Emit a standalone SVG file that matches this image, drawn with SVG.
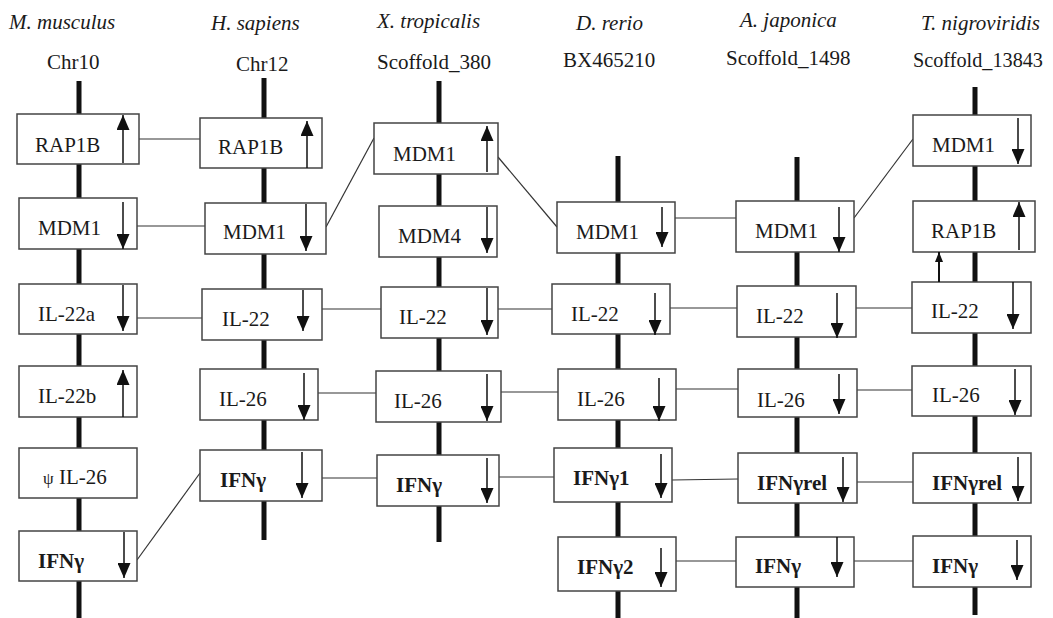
<svg xmlns="http://www.w3.org/2000/svg" width="1053" height="618" viewBox="0 0 1053 618">
  <style>
    text { font-family: "Liberation Serif", "Times New Roman", serif; font-size: 21px; fill: #1a1a1a; }
    .sp { font-style: italic; }
    .b { font-weight: bold; }
    .spine { stroke: #111; stroke-width: 5; fill: none; }
    .box { fill: #fff; stroke: #444; stroke-width: 1.5; }
    .con { stroke: #333; stroke-width: 1.2; fill: none; }
    .dir { stroke: #111; stroke-width: 1.5; fill: none; marker-end: url(#head); }
    .dir-s { stroke: #111; stroke-width: 2; fill: none; marker-end: url(#head-s); }
  </style>
  <defs>
    <marker id="head" markerUnits="userSpaceOnUse" markerWidth="15" markerHeight="13" refX="15" refY="6.5" orient="auto">
      <path d="M0,0 L15,6.5 L0,13 Z" fill="#111"/>
    </marker>
    <marker id="head-s" markerUnits="userSpaceOnUse" markerWidth="10" markerHeight="8" refX="10" refY="4" orient="auto">
      <path d="M0,0 L10,4 L0,8 Z" fill="#111"/>
    </marker>
  </defs>

  <!-- species and scaffold headers -->
  <g id="headers">
    <text class="sp" x="9" y="29">M. musculus</text>
    <text x="47" y="69">Chr10</text>
    <text class="sp" x="211" y="30">H. sapiens</text>
    <text x="236" y="71">Chr12</text>
    <text class="sp" x="377" y="28">X. tropicalis</text>
    <text x="377" y="69">Scoffold_380</text>
    <text class="sp" x="576" y="30">D. rerio</text>
    <text x="563" y="67">BX465210</text>
    <text class="sp" x="740" y="27">A. japonica</text>
    <text x="726" y="65">Scoffold_1498</text>
    <text class="sp" x="921" y="30">T. nigroviridis</text>
    <text x="913" y="67" textLength="130" lengthAdjust="spacingAndGlyphs">Scoffold_13843</text>
  </g>

  <!-- chromosome backbones -->
  <g id="chromosomes">
    <line class="spine" x1="79" y1="81" x2="79" y2="618"/>
    <line class="spine" x1="264" y1="78" x2="264" y2="540"/>
    <line class="spine" x1="439" y1="81" x2="439" y2="542"/>
    <line class="spine" x1="618" y1="156" x2="618" y2="618"/>
    <line class="spine" x1="797" y1="157" x2="797" y2="618"/>
    <line class="spine" x1="975" y1="87" x2="975" y2="615"/>
  </g>

  <!-- orthology links -->
  <g id="connectors">
    <line class="con" x1="139" y1="139" x2="200" y2="139"/>
    <line class="con" x1="137" y1="226" x2="205" y2="226"/>
    <line class="con" x1="326" y1="227" x2="374" y2="138"/>
    <line class="con" x1="498" y1="157" x2="557" y2="227"/>
    <line class="con" x1="675" y1="218" x2="736" y2="218"/>
    <line class="con" x1="854" y1="218" x2="913" y2="139"/>
    <line class="con" x1="137" y1="318" x2="202" y2="318"/>
    <line class="con" x1="322" y1="309" x2="381" y2="309"/>
    <line class="con" x1="498" y1="309" x2="552" y2="309"/>
    <line class="con" x1="670" y1="308" x2="737" y2="308"/>
    <line class="con" x1="856" y1="308" x2="912" y2="308"/>
    <line class="con" x1="318" y1="393" x2="376" y2="393"/>
    <line class="con" x1="501" y1="392" x2="558" y2="392"/>
    <line class="con" x1="676" y1="389" x2="738" y2="389"/>
    <line class="con" x1="857" y1="390" x2="912" y2="390"/>
    <line class="con" x1="137" y1="560" x2="200" y2="473"/>
    <line class="con" x1="322" y1="478" x2="377" y2="478"/>
    <line class="con" x1="499" y1="477" x2="554" y2="477"/>
    <line class="con" x1="672" y1="480" x2="738" y2="479"/>
    <line class="con" x1="857" y1="482" x2="913" y2="482"/>
    <line class="con" x1="676" y1="561" x2="736" y2="561"/>
    <line class="con" x1="854" y1="561" x2="913" y2="561"/>
  </g>

  <!-- M. musculus genes -->
  <g id="mm-rap1b"><rect class="box" x="17" y="114" width="122" height="50"/><text x="35" y="152">RAP1B</text><line class="dir" x1="123" y1="163" x2="123" y2="115"/></g>
  <g id="mm-mdm1"><rect class="box" x="19" y="198" width="118" height="51"/><text x="38" y="235">MDM1</text><line class="dir" x1="123" y1="202" x2="123" y2="249"/></g>
  <g id="mm-il22a"><rect class="box" x="19" y="284" width="118" height="50"/><text x="38" y="321">IL-22a</text><line class="dir" x1="123" y1="285" x2="123" y2="331"/></g>
  <g id="mm-il22b"><rect class="box" x="19" y="366" width="118" height="51"/><text x="38" y="403">IL-22b</text><line class="dir" x1="123" y1="417" x2="123" y2="370"/></g>
  <g id="mm-psi-il26"><rect class="box" x="19" y="448" width="118" height="50"/><text x="43" y="484"><tspan font-size="17">ψ</tspan> IL-26</text></g>
  <g id="mm-ifng"><rect class="box" x="19" y="531" width="118" height="50"/><text class="b" x="38" y="568">IFNγ</text><line class="dir" x1="124" y1="532" x2="124" y2="578"/></g>

  <!-- H. sapiens genes -->
  <g id="hs-rap1b"><rect class="box" x="200" y="118" width="122" height="50"/><text x="218" y="154">RAP1B</text><line class="dir" x1="307" y1="168" x2="307" y2="121"/></g>
  <g id="hs-mdm1"><rect class="box" x="205" y="203" width="121" height="51"/><text x="223" y="239">MDM1</text><line class="dir" x1="306" y1="204" x2="306" y2="251"/></g>
  <g id="hs-il22"><rect class="box" x="202" y="289" width="120" height="51"/><text x="222" y="326">IL-22</text><line class="dir" x1="303" y1="290" x2="303" y2="331"/></g>
  <g id="hs-il26"><rect class="box" x="200" y="369" width="118" height="51"/><text x="219" y="406">IL-26</text><line class="dir" x1="304" y1="373" x2="304" y2="420"/></g>
  <g id="hs-ifng"><rect class="box" x="200" y="450" width="122" height="51"/><text class="b" x="220" y="487">IFNγ</text><line class="dir" x1="302" y1="452" x2="302" y2="498"/></g>

  <!-- X. tropicalis genes -->
  <g id="xt-mdm1"><rect class="box" x="374" y="123" width="124" height="51"/><text x="393" y="161">MDM1</text><line class="dir" x1="487" y1="172" x2="487" y2="126"/></g>
  <g id="xt-mdm4"><rect class="box" x="379" y="206" width="118" height="51"/><text x="398" y="243">MDM4</text><line class="dir" x1="487" y1="207" x2="487" y2="253"/></g>
  <g id="xt-il22"><rect class="box" x="381" y="287" width="117" height="51"/><text x="399" y="324">IL-22</text><line class="dir" x1="487" y1="288" x2="487" y2="335"/></g>
  <g id="xt-il26"><rect class="box" x="376" y="371" width="125" height="51"/><text x="394" y="408">IL-26</text><line class="dir" x1="487" y1="374" x2="487" y2="421"/></g>
  <g id="xt-ifng"><rect class="box" x="377" y="455" width="122" height="51"/><text class="b" x="396" y="492">IFNγ</text><line class="dir" x1="487" y1="458" x2="487" y2="503"/></g>

  <!-- D. rerio genes -->
  <g id="dr-mdm1"><rect class="box" x="557" y="202" width="118" height="51"/><text x="576" y="239">MDM1</text><line class="dir" x1="662" y1="207" x2="662" y2="247"/></g>
  <g id="dr-il22"><rect class="box" x="552" y="284" width="118" height="50"/><text x="571" y="321">IL-22</text><line class="dir" x1="655" y1="293" x2="655" y2="335"/></g>
  <g id="dr-il26"><rect class="box" x="558" y="369" width="118" height="51"/><text x="577" y="406">IL-26</text><line class="dir" x1="659" y1="378" x2="659" y2="421"/></g>
  <g id="dr-ifng1"><rect class="box" x="554" y="448" width="118" height="54"/><text class="b" x="573" y="485">IFNγ1</text><line class="dir" x1="661" y1="454" x2="661" y2="498"/></g>
  <g id="dr-ifng2"><rect class="box" x="558" y="537" width="118" height="54"/><text class="b" x="577" y="574">IFNγ2</text><line class="dir" x1="661" y1="548" x2="661" y2="587"/></g>

  <!-- A. japonica genes -->
  <g id="aj-mdm1"><rect class="box" x="736" y="201" width="118" height="51"/><text x="755" y="238">MDM1</text><line class="dir" x1="839" y1="207" x2="839" y2="252"/></g>
  <g id="aj-il22"><rect class="box" x="737" y="286" width="119" height="51"/><text x="756" y="323">IL-22</text><line class="dir" x1="837" y1="293" x2="837" y2="338"/></g>
  <g id="aj-il26"><rect class="box" x="738" y="369" width="119" height="48"/><text x="757" y="407">IL-26</text><line class="dir" x1="839" y1="374" x2="839" y2="414"/></g>
  <g id="aj-ifngrel"><rect class="box" x="738" y="453" width="119" height="50"/><text class="b" x="757" y="490">IFNγrel</text><line class="dir" x1="843" y1="457" x2="843" y2="502"/></g>
  <g id="aj-ifng"><rect class="box" x="736" y="537" width="118" height="50"/><text class="b" x="755" y="573">IFNγ</text><line class="dir" x1="837" y1="537" x2="837" y2="577"/></g>

  <!-- T. nigroviridis genes -->
  <g id="tn-mdm1"><rect class="box" x="913" y="115" width="118" height="51"/><text x="932" y="152">MDM1</text><line class="dir" x1="1018" y1="118" x2="1018" y2="164"/></g>
  <g id="tn-rap1b"><rect class="box" x="913" y="201" width="122" height="51"/><text x="931" y="238">RAP1B</text><line class="dir" x1="1019" y1="250" x2="1019" y2="202"/></g>
  <g id="tn-il22"><rect class="box" x="912" y="282" width="119" height="51"/><text x="931" y="318">IL-22</text><line class="dir" x1="1013" y1="282" x2="1013" y2="329"/><line class="dir-s" x1="939" y1="282" x2="939" y2="252"/></g>
  <g id="tn-il26"><rect class="box" x="912" y="366" width="119" height="50"/><text x="932" y="402">IL-26</text><line class="dir" x1="1015" y1="369" x2="1015" y2="415"/></g>
  <g id="tn-ifngrel"><rect class="box" x="913" y="453" width="118" height="50"/><text class="b" x="932" y="490">IFNγrel</text><line class="dir" x1="1018" y1="457" x2="1018" y2="501"/></g>
  <g id="tn-ifng"><rect class="box" x="913" y="536" width="118" height="51"/><text class="b" x="932" y="573">IFNγ</text><line class="dir" x1="1017" y1="540" x2="1017" y2="580"/></g>
</svg>
